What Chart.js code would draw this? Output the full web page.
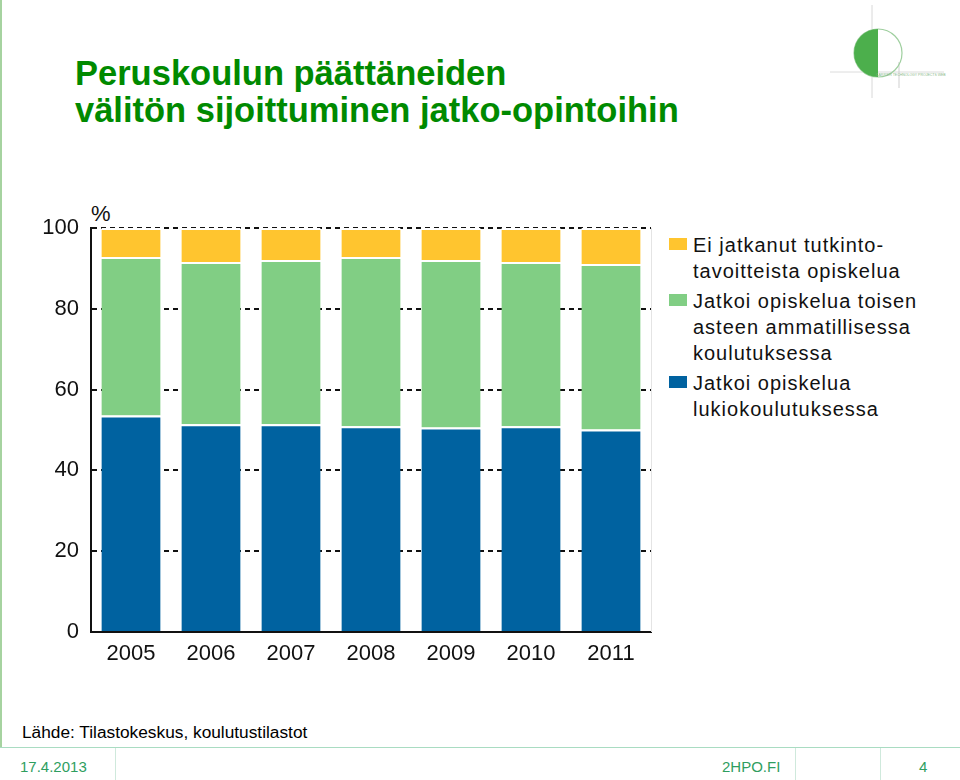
<!DOCTYPE html>
<html>
<head>
<meta charset="utf-8">
<script src="https://cdn.jsdelivr.net/npm/chart.js@4.4.0/dist/chart.umd.min.js"></script>
<style>
  html, body { margin: 0; padding: 0; background: #fff; }
  body { width: 960px; height: 780px; position: relative; overflow: hidden; font-family: "Liberation Sans", Arial, sans-serif; }
  #title { position: absolute; left: 75px; top: 55px; color: #008a00; font-weight: bold; font-size: 34.5px; line-height: 37px; }
  #chartBox { position: absolute; left: 0; top: 190px; width: 655px; height: 490px; }
  #pct { position: absolute; left: 91px; top: 201px; font-size: 22px; color: #111; }
  #legend { position: absolute; left: 669px; top: 232px; font-size: 20px; line-height: 26px; letter-spacing: 1px; color: #111; }
  .item { position: relative; padding-left: 24px; margin-bottom: 4px; }
  .sw { position: absolute; left: 0; top: 6px; width: 18px; height: 12px; }
  #source { position: absolute; left: 22px; top: 722px; font-size: 17.3px; color: #000; }
  #leftLine { position: absolute; left: 0; top: 0; width: 2px; height: 748px; background: #a6d3a0; }
  #footLine { position: absolute; left: 0; top: 747px; width: 960px; height: 1px; background: #a9dcc2; }
  .sep { position: absolute; top: 748px; width: 1px; height: 32px; background: #cfe9dc; }
  .foot { position: absolute; top: 758px; font-size: 15px; color: #2f9e5f; }
</style>
</head>
<body>
<div id="leftLine"></div>
<div id="title">Peruskoulun päättäneiden<br>välitön sijoittuminen jatko-opintoihin</div>

<svg style="position:absolute;left:826px;top:0" width="134" height="105">
  <line x1="46" y1="5" x2="46" y2="98" stroke="#d8d8d8" stroke-width="1"/>
  <line x1="4" y1="72" x2="118" y2="72" stroke="#dcdcdc" stroke-width="1"/>
  <line x1="73" y1="62" x2="73" y2="88" stroke="#cfcfcf" stroke-width="1"/>
  <circle cx="52" cy="53" r="24" fill="none" stroke="#9fcf9f" stroke-width="1.2"/>
  <path d="M52 29 A24 24 0 0 0 52 77 Z" fill="#4caf4c"/>
  <text x="50" y="76" font-size="3.5" fill="#8ab88a">CARRIER TECHNOLOGY PROJECTS WEB</text>
</svg>

<div id="pct">%</div>
<div id="chartBox"><canvas id="barChart" width="655" height="490"></canvas></div>
<div id="legend"></div>

<div id="source">Lähde: Tilastokeskus, koulutustilastot</div>
<div id="footLine"></div>
<div class="sep" style="left:115px"></div>
<div class="sep" style="left:795px"></div>
<div class="sep" style="left:880px"></div>
<div class="foot" style="left:20px">17.4.2013</div>
<div class="foot" style="left:722px">2HPO.FI</div>
<div class="foot" style="left:919px">4</div>

<script>
// Data (percent of graduates)
var years = ["2005", "2006", "2007", "2008", "2009", "2010", "2011"];
var lukio = [53.6, 51.4, 51.4, 50.9, 50.6, 50.9, 50.1];      // blue
var ammatillinen = [39.2, 40.2, 40.7, 41.9, 41.5, 40.7, 41.0]; // green
var eiJatkanut = [7.2, 8.4, 7.9, 7.2, 7.9, 8.4, 8.9];         // yellow
var yTicks = [0, 20, 40, 60, 80, 100];

var seriesLines = [
  ["Jatkoi opiskelua", "lukiokoulutuksessa"],
  ["Jatkoi opiskelua toisen", "asteen ammatillisessa", "koulutuksessa"],
  ["Ei jatkanut tutkinto-", "tavoitteista opiskelua"]
];
var seriesColors = ["#0062a0", "#81ce84", "#ffc52f"];
var seriesData = [lukio, ammatillinen, eiJatkanut];

var datasets = seriesData.map(function (d, i) {
  return {
    label: seriesLines[i].join(" "),
    data: d,
    backgroundColor: seriesColors[i],
    borderColor: "#ffffff",
    borderWidth: { top: 2, left: 0, right: 0, bottom: 0 },
    borderSkipped: false,
    barPercentage: 0.74,
    categoryPercentage: 1
  };
});

var tickFont = { family: "'Liberation Sans', Arial, sans-serif", size: 22 };

// faint frame line on the right edge of the plot
var rightEdge = {
  id: "rightEdge",
  afterDraw: function (c) {
    var a = c.chartArea, g = c.ctx;
    g.save();
    g.strokeStyle = "#e4e4e4";
    g.lineWidth = 1;
    g.beginPath();
    g.moveTo(a.right + 0.5, a.top);
    g.lineTo(a.right + 0.5, a.bottom);
    g.stroke();
    g.restore();
  }
};

var ctx = document.getElementById("barChart").getContext("2d");
var chart = new Chart(ctx, {
  type: "bar",
  data: { labels: years, datasets: datasets },
  plugins: [rightEdge],
  options: {
    responsive: false,
    animation: false,
    layout: { padding: { top: 38, right: 4, left: 0, bottom: 0 } },
    plugins: { legend: { display: false }, tooltip: { enabled: false } },
    scales: {
      x: {
        stacked: true,
        grid: { display: false, drawTicks: false },
        border: { color: "#111", width: 2 },
        ticks: { color: "#111", font: tickFont, padding: 9 },
        afterFit: function (s) { s.height = 48; }
      },
      y: {
        stacked: true,
        min: 0,
        max: 100,
        afterBuildTicks: function (s) { s.ticks = yTicks.map(function (v) { return { value: v }; }); },
        grid: { color: "#111", lineWidth: 2, drawTicks: false },
        border: { color: "#111", width: 2, dash: [5, 4] },
        ticks: { color: "#111", font: tickFont, padding: 12 },
        afterFit: function (s) { s.width = 91; }
      }
    }
  }
});

// legend (top to bottom: yellow, green, blue)
var legendBox = document.getElementById("legend");
for (var i = seriesLines.length - 1; i >= 0; i--) {
  var div = document.createElement("div");
  div.className = "item";
  div.innerHTML = '<span class="sw" style="background:' + seriesColors[i] + '"></span>' + seriesLines[i].join("<br>");
  legendBox.appendChild(div);
}
</script>
</body>
</html>
